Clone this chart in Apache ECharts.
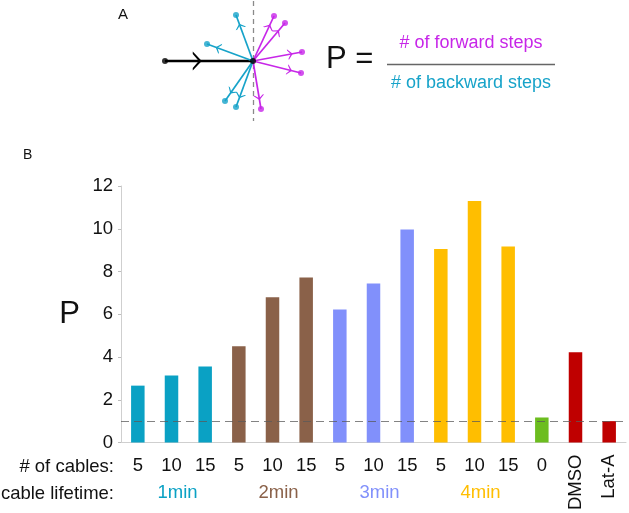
<!DOCTYPE html>
<html>
<head>
<meta charset="utf-8">
<script src="https://cdn.jsdelivr.net/npm/echarts@6/dist/echarts.min.js"></script>
<style>
  html, body { margin: 0; padding: 0; background: #fff; }
  #main { width: 629px; height: 513px; }
</style>
</head>
<body>
<div id="main"></div>
<script>
// panel B data
const cables = ['5', '10', '15', '5', '10', '15', '5', '10', '15', '5', '10', '15', '0', 'DMSO', 'Lat-A']
const lifetimes = ['1min', '1min', '1min', '2min', '2min', '2min', '3min', '3min', '3min', '4min', '4min', '4min', '', '', '']
const pValues = [2.66, 3.14, 3.56, 4.5, 6.8, 7.72, 6.22, 7.44, 9.96, 9.05, 11.3, 9.17, 1.17, 4.22, 1.0]
const yTicks = [0, 2, 4, 6, 8, 10, 12]
const baseline = 1
const rotatedLabels = ['DMSO', 'Lat-A']

// panel A data: step vectors relative to the cell position (px, y up)
const incomingStep = [[-88, 0]]
const forwardSteps = [[21, 45], [32, 38], [49, 9], [48, -12], [8, -48]]
const backwardSteps = [[-17, 46], [-46, 17], [-28, -40], [-17, -46]]

const groupColor = {
  '1min': '#0aa1c4', '2min': '#8a6149', '3min': '#8190fb', '4min': '#ffbe00',
  '0': '#6cbd1f', 'DMSO': '#bf0000', 'Lat-A': '#bf0000'
}
const fwdColor = '#c726e8'
const bwdColor = '#17a3c9'
const font = '"Liberation Sans", Arial, Helvetica, sans-serif'

const chevron = 'path://M10,0 L20,9.5 L17.4,9.5 L10,3.2 L2.6,9.5 L0,9.5 Z M10,20'
const chevronSmall = 'path://M10,0 L20,9 L17.2,9 L10,3.4 L2.8,9 L0,9 Z M10,20'

let myChart = echarts.init(document.getElementById('main'))

function stepLines(steps) {
  return steps.map(s => ({ coords: [[0, 0], s] }))
}
function stepArrows(steps, f) {
  return steps.map(s => ({ coords: [[0, 0], [s[0] * f, s[1] * f]] }))
}

const barData = pValues.map((v, i) => ({
  value: v,
  itemStyle: { color: groupColor[lifetimes[i] || cables[i]] }
}))

const lifetimeRich = {}
Object.keys(groupColor).forEach((k, i) => {
  lifetimeRich['g' + i] = { color: groupColor[k], fontSize: 18.5, fontFamily: font, padding: [0, 0, 0, 12] }
})
function lifetimeLabel(value, idx) {
  const g = lifetimes[idx]
  if (!g || lifetimes[idx - 1] !== g || lifetimes[idx + 1] !== g) return ''
  return '{g' + Object.keys(groupColor).indexOf(g) + '|' + g + '}'
}

const diagramLine = {
  type: 'lines', coordinateSystem: 'cartesian2d', xAxisIndex: 3, yAxisIndex: 1, silent: true
}

let option = {
  animation: false,
  textStyle: { fontFamily: font },
  grid: [
    { left: 121, right: 3, top: 186, bottom: 70 },
    { left: 133, top: 1, width: 240, height: 120 }
  ],
  xAxis: [
    {
      type: 'category', gridIndex: 0, data: cables,
      axisLine: { lineStyle: { color: '#cfcfcf', width: 1 } },
      axisTick: { length: 4, lineStyle: { color: '#bdbdbd' } },
      axisLabel: {
        interval: 0, margin: 14, fontSize: 18.5, color: '#111', fontFamily: font,
        formatter: v => rotatedLabels.includes(v) ? '' : v
      }
    },
    {
      type: 'category', gridIndex: 0, data: cables, position: 'bottom',
      axisLine: { show: false }, axisTick: { show: false },
      axisLabel: {
        interval: 0, margin: 12, rotate: 90, fontSize: 18.5, color: '#111', fontFamily: font,
        formatter: v => rotatedLabels.includes(v) ? v : ''
      }
    },
    {
      type: 'category', gridIndex: 0, data: cables, position: 'bottom', offset: 27,
      axisLine: { show: false }, axisTick: { show: false },
      axisLabel: { interval: 0, margin: 14, fontSize: 18.5, formatter: lifetimeLabel, rich: lifetimeRich }
    },
    { type: 'value', gridIndex: 1, min: -120, max: 120, show: false }
  ],
  yAxis: [
    {
      type: 'value', gridIndex: 0, min: yTicks[0], max: yTicks[yTicks.length - 1], interval: 2,
      name: 'P', nameLocation: 'middle', nameRotate: 0, nameGap: 41,
      nameTextStyle: { fontSize: 31, color: '#111', fontFamily: font },
      axisLine: { show: true, lineStyle: { color: '#cfcfcf', width: 1 } },
      axisTick: { show: true, length: 3, lineStyle: { color: '#bdbdbd' } },
      axisLabel: { margin: 8, fontSize: 18.5, color: '#111', fontFamily: font },
      splitLine: { show: false }
    },
    { type: 'value', gridIndex: 1, min: -60, max: 60, show: false }
  ],
  series: [
    {
      type: 'bar', xAxisIndex: 0, yAxisIndex: 0, data: barData, barWidth: 13.5,
      markLine: {
        silent: true, symbol: 'none', label: { show: false },
        lineStyle: { color: 'rgba(90,90,90,0.75)', type: [8, 5], width: 1.2 },
        data: [{ yAxis: baseline }]
      }
    },
    // panel A: vertical dashed reference
    Object.assign({}, diagramLine, {
      lineStyle: { color: '#8a8a8a', type: [5, 4], width: 1.3, opacity: 1 },
      data: [{ coords: [[0, 60], [0, -60]] }]
    }),
    // incoming path
    Object.assign({}, diagramLine, {
      lineStyle: { color: '#000', width: 2.4, opacity: 1 },
      data: incomingStep.map(s => ({ coords: [s, [0, 0]] }))
    }),
    Object.assign({}, diagramLine, {
      symbol: ['none', chevron], symbolSize: [0, 19],
      lineStyle: { color: '#000', width: 0, opacity: 1 },
      data: incomingStep.map(s => ({ coords: [s, [s[0] * 0.69, s[1] * 0.69]] }))
    }),
    // forward and backward steps
    Object.assign({}, diagramLine, {
      lineStyle: { color: fwdColor, width: 1.7, opacity: 1 }, data: stepLines(forwardSteps)
    }),
    Object.assign({}, diagramLine, {
      symbol: ['none', chevronSmall], symbolSize: [0, 11],
      lineStyle: { color: fwdColor, width: 0, opacity: 1 }, data: stepArrows(forwardSteps, 0.7)
    }),
    Object.assign({}, diagramLine, {
      lineStyle: { color: bwdColor, width: 1.7, opacity: 1 }, data: stepLines(backwardSteps)
    }),
    Object.assign({}, diagramLine, {
      symbol: ['none', chevronSmall], symbolSize: [0, 11],
      lineStyle: { color: bwdColor, width: 0, opacity: 1 }, data: stepArrows(backwardSteps, 0.7)
    }),
    {
      type: 'scatter', xAxisIndex: 3, yAxisIndex: 1, symbolSize: 6, silent: true,
      itemStyle: { color: fwdColor }, data: forwardSteps
    },
    {
      type: 'scatter', xAxisIndex: 3, yAxisIndex: 1, symbolSize: 6, silent: true,
      itemStyle: { color: bwdColor }, data: backwardSteps
    },
    {
      type: 'scatter', xAxisIndex: 3, yAxisIndex: 1, symbolSize: 6, z: 5, silent: true,
      itemStyle: { color: '#000' }, data: incomingStep.concat([[0, 0]])
    }
  ],
  graphic: [
    { type: 'text', x: 118, y: 7, style: { text: 'A', font: '15px ' + font, fill: '#111' } },
    { type: 'text', x: 23, y: 148, style: { text: 'B', font: '14px ' + font, fill: '#111' } },
    { type: 'text', x: 326, y: 59, style: { text: 'P =', font: '31px ' + font, fill: '#111', verticalAlign: 'middle' } },
    { type: 'text', x: 471, y: 43, style: { text: '# of forward steps', font: '18px ' + font, fill: fwdColor, align: 'center', verticalAlign: 'middle' } },
    { type: 'line', shape: { x1: 387, y1: 64.5, x2: 555, y2: 64.5 }, style: { stroke: '#666', lineWidth: 1.6 } },
    { type: 'text', x: 471, y: 83, style: { text: '# of backward steps', font: '18px ' + font, fill: bwdColor, align: 'center', verticalAlign: 'middle' } },
    { type: 'text', x: 114, y: 467, style: { text: '# of cables:', font: '18.5px ' + font, fill: '#111', align: 'right', verticalAlign: 'middle' } },
    { type: 'text', x: 114, y: 494, style: { text: 'cable lifetime:', font: '18.5px ' + font, fill: '#111', align: 'right', verticalAlign: 'middle' } }
  ]
}

myChart.setOption(option)
</script>
</body>
</html>
